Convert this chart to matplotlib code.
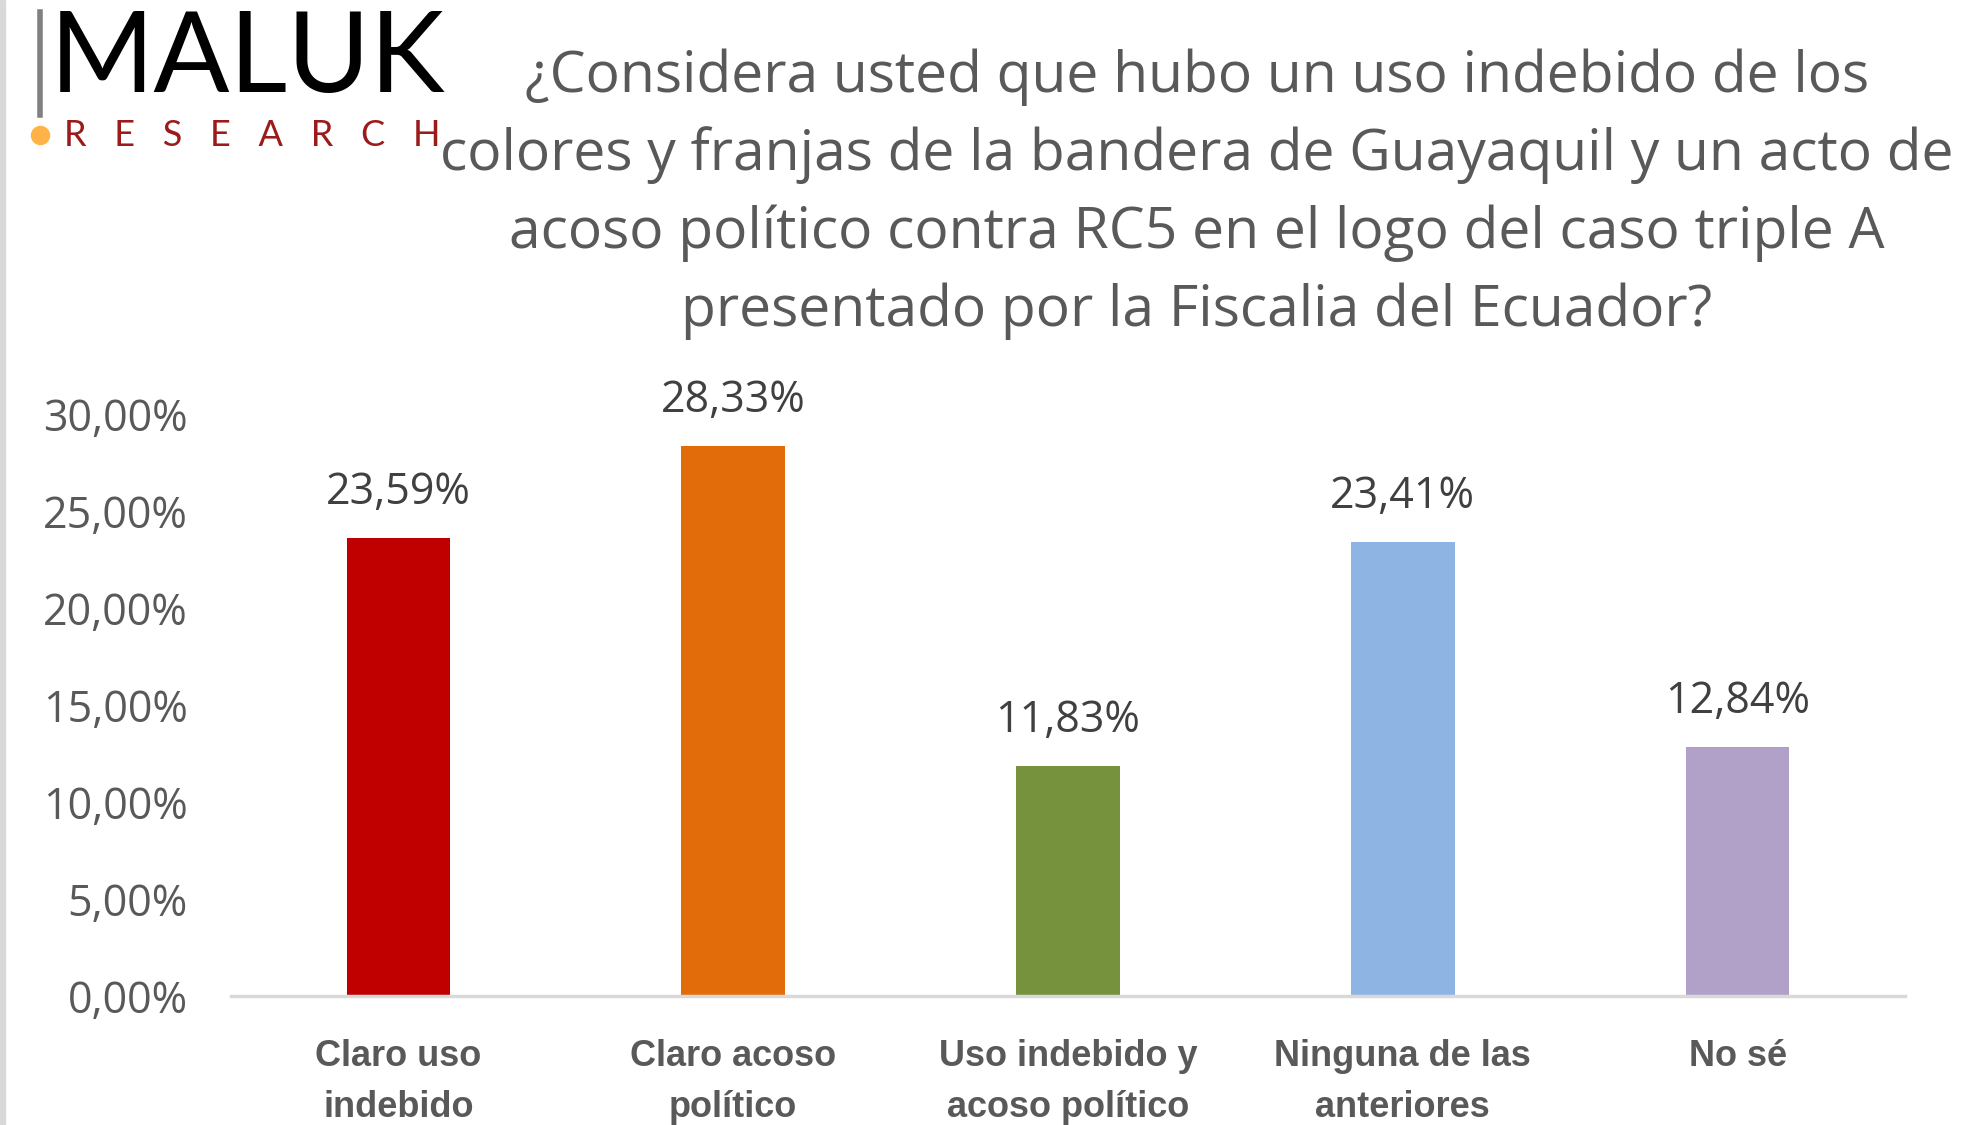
import matplotlib.pyplot as plt
from matplotlib.ticker import FuncFormatter

categories = ["Claro uso\nindebido", "Claro acoso\npolítico", "Uso indebido y\nacoso político",
              "Ninguna de las\nanteriores", "No sé"]
values = [23.59, 28.33, 11.83, 23.41, 12.84]
colors = ["#C00000", "#E26B0A", "#76923C", "#8DB4E2", "#B1A0C7"]
yticks = [0, 5, 10, 15, 20, 25, 30]

title = ("¿Considera usted que hubo un uso indebido de los\n"
         "colores y franjas de la bandera de Guayaquil y un acto de\n"
         "acoso político contra RC5 en el logo del caso triple A\n"
         "presentado por la Fiscalia del Ecuador?")

plt.rcParams["font.family"] = ["Open Sans", "DejaVu Sans"]

fig = plt.figure(figsize=(19.62, 11.25), dpi=100)
ax = fig.add_axes([231 / 1962, 1 - 996 / 1125, 1674 / 1962, 582 / 1125 * 35 / 30])

x = range(len(values))
bars = ax.bar(x, values, width=0.31, color=colors)
for b, v in zip(bars, values):
    ax.text(b.get_x() + b.get_width() / 2, v + 1.2, f"{v:.2f}%".replace(".", ","),
            ha="center", va="bottom", fontsize=31, color="#404040")

ax.set_xlim(-0.5, len(values) - 0.5)
ax.set_ylim(0, 35)
ax.set_yticks(yticks)
ax.yaxis.set_major_formatter(FuncFormatter(lambda v, p: f"{v:.2f}%".replace(".", ",")))
ax.tick_params(axis="y", length=0, pad=31, labelsize=31, labelcolor="#595959")
ax.tick_params(axis="x", length=0, pad=31)
ax.set_xticks(list(x))
ax.set_xticklabels(categories, fontsize=26, fontweight="bold", color="#595959",
                   family=["Liberation Sans", "DejaVu Sans"], linespacing=1.6)
for s in ["top", "right", "left"]:
    ax.spines[s].set_visible(False)
ax.spines["bottom"].set_color("#D9D9D9")
ax.spines["bottom"].set_linewidth(2.5)

fig.text(1197 / 1962, 1 - 194 / 1125, title, ha="center", va="center", fontsize=41,
         color="#595959", linespacing=1.47)

# logo
fig.add_artist(plt.Line2D([40 / 1962, 40 / 1962], [1 - 12 / 1125, 1 - 115 / 1125],
                          color="#808080", lw=4))
fig.text(50 / 1962, 1 - 60 / 1125, "MALUK", fontsize=81, color="black", va="center",
         ha="left", family=["Lato", "DejaVu Sans"])
fig.add_artist(plt.Line2D([40 / 1962], [1 - 135 / 1125], marker="o", color="#FFB347",
                          markersize=13))
fig.text(64 / 1962, 1 - 135 / 1125, "   ".join("RESEARCH"), fontsize=26, color="#9B1B1B",
         va="center", ha="left", family=["Lato", "DejaVu Sans"])

# left gray strip
fig.add_artist(plt.Rectangle((0, 0), 5 / 1962, 1, color="#D9D9D9", transform=fig.transFigure))

fig.savefig("out.png", dpi=100)
